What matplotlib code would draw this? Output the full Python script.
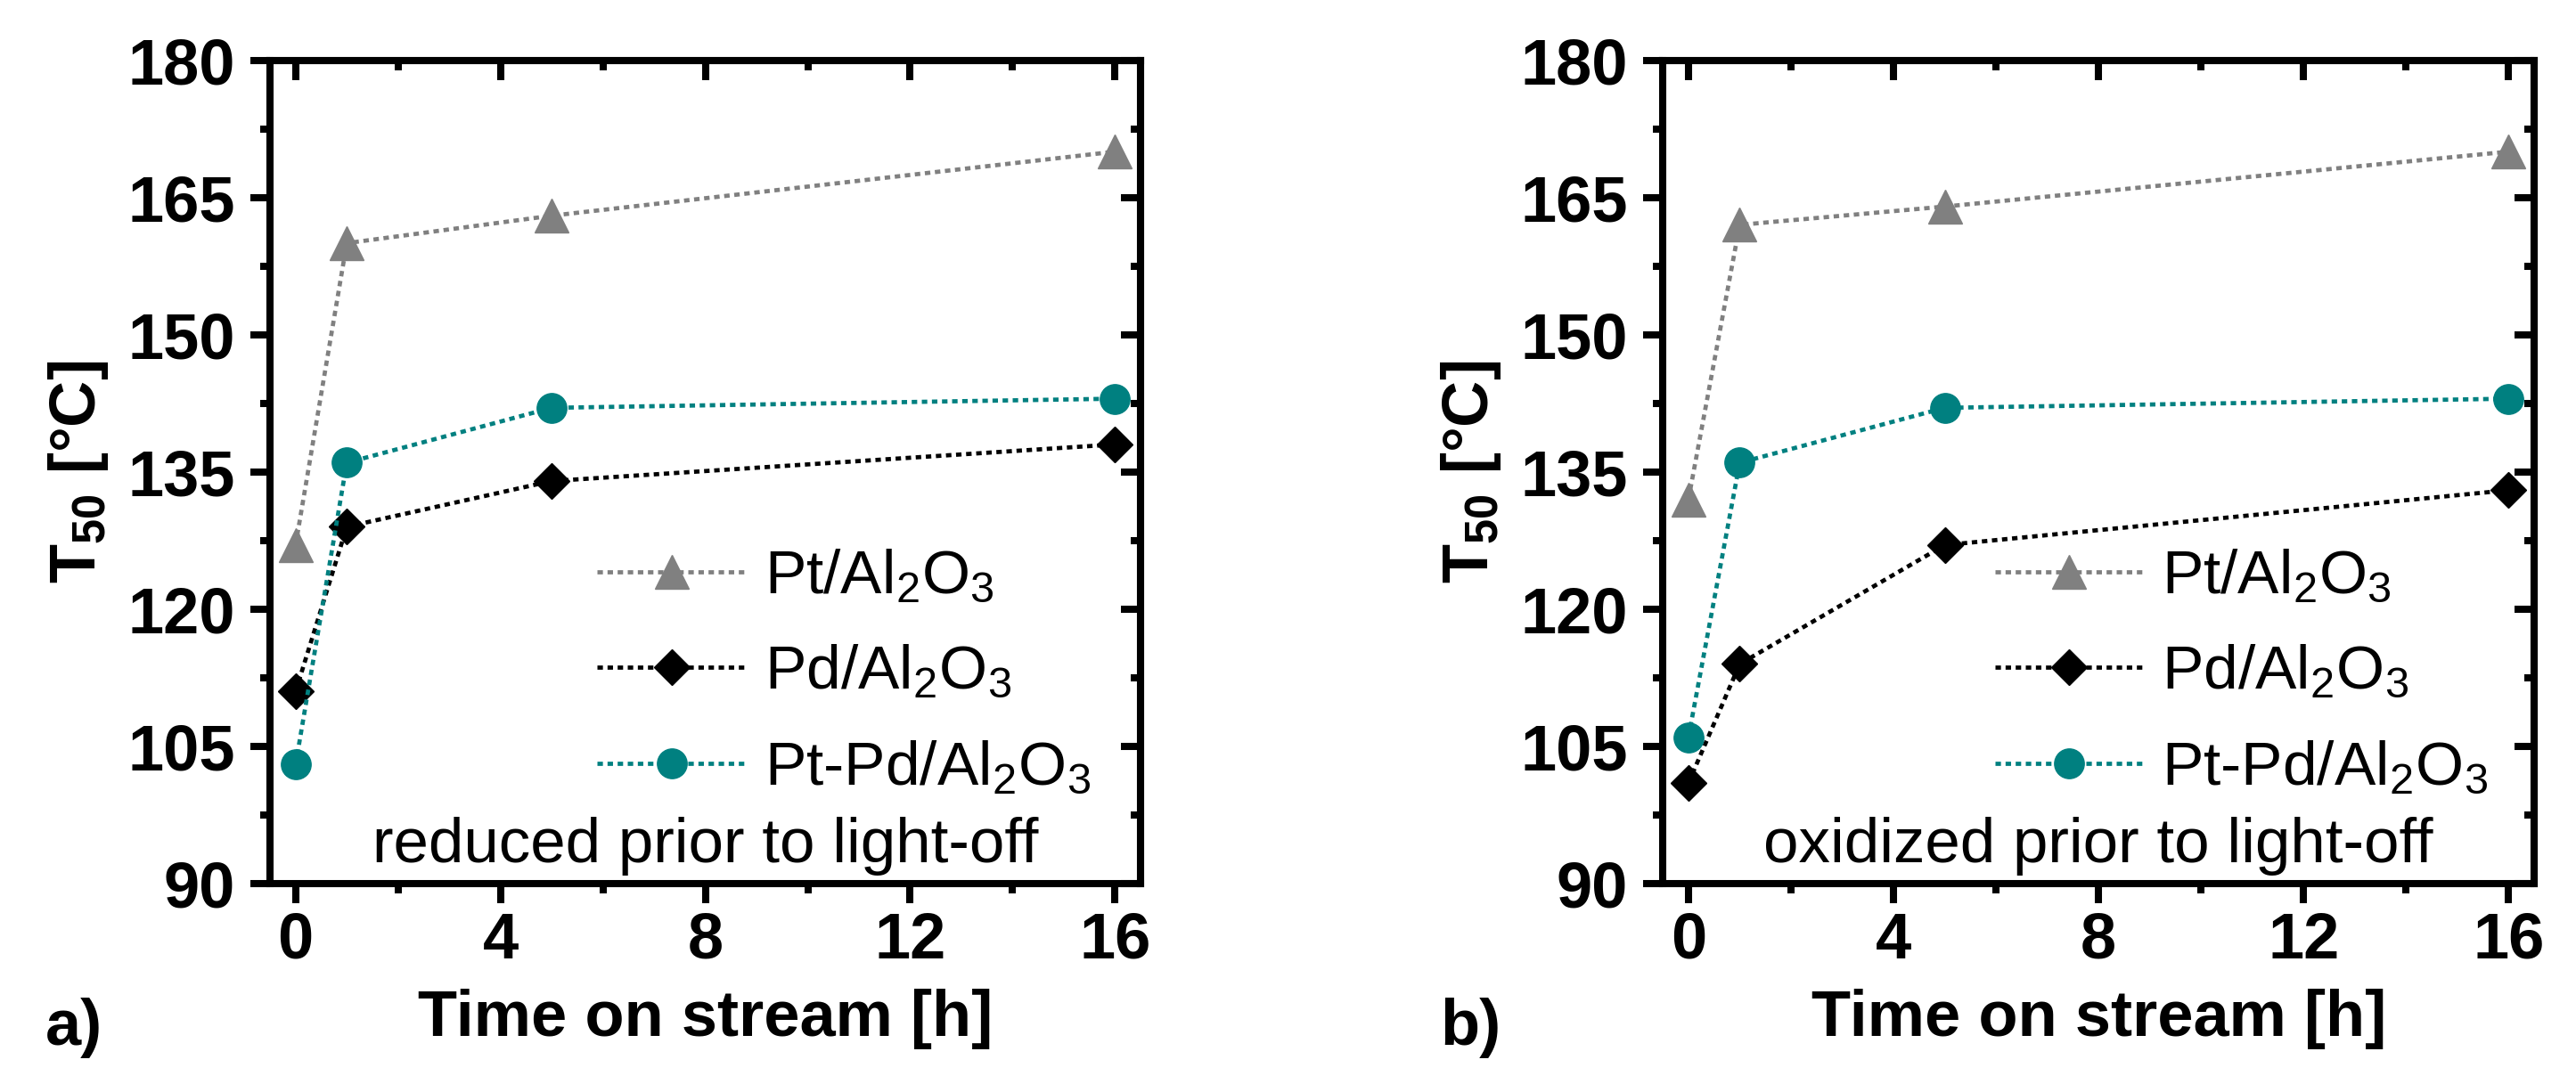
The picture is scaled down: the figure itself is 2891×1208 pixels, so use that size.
import numpy as np
import matplotlib
matplotlib.use('Agg')
import matplotlib.pyplot as plt
from matplotlib.ticker import MultipleLocator

plt.rcParams['font.family'] = ['Liberation Sans', 'DejaVu Sans']
plt.rcParams['mathtext.fontset'] = 'custom'
plt.rcParams['mathtext.rm'] = 'Liberation Sans'
plt.rcParams['mathtext.it'] = 'Liberation Sans:italic'
plt.rcParams['mathtext.bf'] = 'Liberation Sans:bold'

# time on stream [h]
time_h = [0, 1, 5, 16]

# panel a: reduced prior to light-off
pt_red = [127, 160, 163, 170]
pd_red = [111, 129, 134, 138]
ptpd_red = [103, 136, 142, 143]

# panel b: oxidized prior to light-off
pt_ox = [132, 162, 164, 170]
pd_ox = [101, 114, 127, 133]
ptpd_ox = [106, 136, 142, 143]

labels = ['Pt/Al$_2$O$_3$', 'Pd/Al$_2$O$_3$', 'Pt-Pd/Al$_2$O$_3$']
notes = ['reduced prior to light-off', 'oxidized prior to light-off']
panel_tags = ['a)', 'b)']

GREY = '#808080'
TEAL = '#008080'
LS = (0, (1.3, 1.1))

fig = plt.figure(figsize=(28.91, 12.08), dpi=100)
ax_a = fig.add_axes([0.1048, 0.1788, 0.3380, 0.7653])
ax_b = fig.add_axes([0.6455, 0.1788, 0.3383, 0.7653])


def style_axes(ax):
    ax.set_xlim(-0.5, 16.5)
    ax.set_ylim(90, 180)
    ax.xaxis.set_major_locator(MultipleLocator(4))
    ax.xaxis.set_minor_locator(MultipleLocator(2))
    ax.yaxis.set_major_locator(MultipleLocator(15))
    ax.yaxis.set_minor_locator(MultipleLocator(7.5))
    for s in ax.spines.values():
        s.set_linewidth(5.8)
    ax.tick_params(which='both', direction='out', width=5.8,
                   top=False, right=False)
    ax.tick_params(which='major', length=16)
    ax.tick_params(which='minor', length=8)
    ax.tick_params(axis='y', which='major', pad=12)
    ax.tick_params(axis='x', which='major', pad=6)
    for lab in ax.get_xticklabels() + ax.get_yticklabels():
        lab.set_fontsize(52)
        lab.set_fontweight('bold')

    # inward ticks on top and right
    top = ax.secondary_xaxis('top')
    right = ax.secondary_yaxis('right')
    top.xaxis.set_major_locator(MultipleLocator(4))
    top.xaxis.set_minor_locator(MultipleLocator(2))
    right.yaxis.set_major_locator(MultipleLocator(15))
    right.yaxis.set_minor_locator(MultipleLocator(7.5))
    for sec in (top, right):
        for s in sec.spines.values():
            s.set_linewidth(5.8)
        sec.tick_params(which='both', direction='in', width=5.8,
                        labeltop=False, labelright=False,
                        labelbottom=False, labelleft=False)
        sec.tick_params(which='major', length=16)
        sec.tick_params(which='minor', length=8)

    ax.set_xlabel('Time on stream [h]', fontsize=52, fontweight='bold',
                  labelpad=14)
    ax.set_ylabel(r'T$_\mathbf{50}$ [°C]', fontsize=52, fontweight='bold',
                  labelpad=14)


panels = [
    (ax_a, pt_red, pd_red, ptpd_red, 0.376),
    (ax_b, pt_ox, pd_ox, ptpd_ox, 0.381),
]

for i, (ax, pt, pd, ptpd, lx) in enumerate(panels):
    ax.plot(time_h, pt, color=GREY, ls=LS, lw=3.4, marker='^', ms=28,
            label=labels[0])
    ax.plot(time_h, pd, color='black', ls=LS, lw=3.4, marker='D', ms=20,
            label=labels[1])
    ax.plot(time_h, ptpd, color=TEAL, ls=LS, lw=3.4, marker='o', ms=24,
            label=labels[2])
    style_axes(ax)
    ax.legend(loc='upper left', bbox_to_anchor=(lx, 0.407), frameon=False,
              fontsize=50, handlelength=2.4, handletextpad=0.3,
              labelspacing=0.63, borderpad=0, borderaxespad=0)
    ax.text(0.5, 0.026, notes[i], transform=ax.transAxes, ha='center',
            va='baseline', fontsize=51)

fig.text(51 / 2891, 35 / 1208, panel_tags[0], fontsize=52,
         fontweight='bold', ha='left', va='baseline')
fig.text(1616 / 2891, 35 / 1208, panel_tags[1], fontsize=52,
         fontweight='bold', ha='left', va='baseline')

fig.savefig('out.png', dpi=100)
